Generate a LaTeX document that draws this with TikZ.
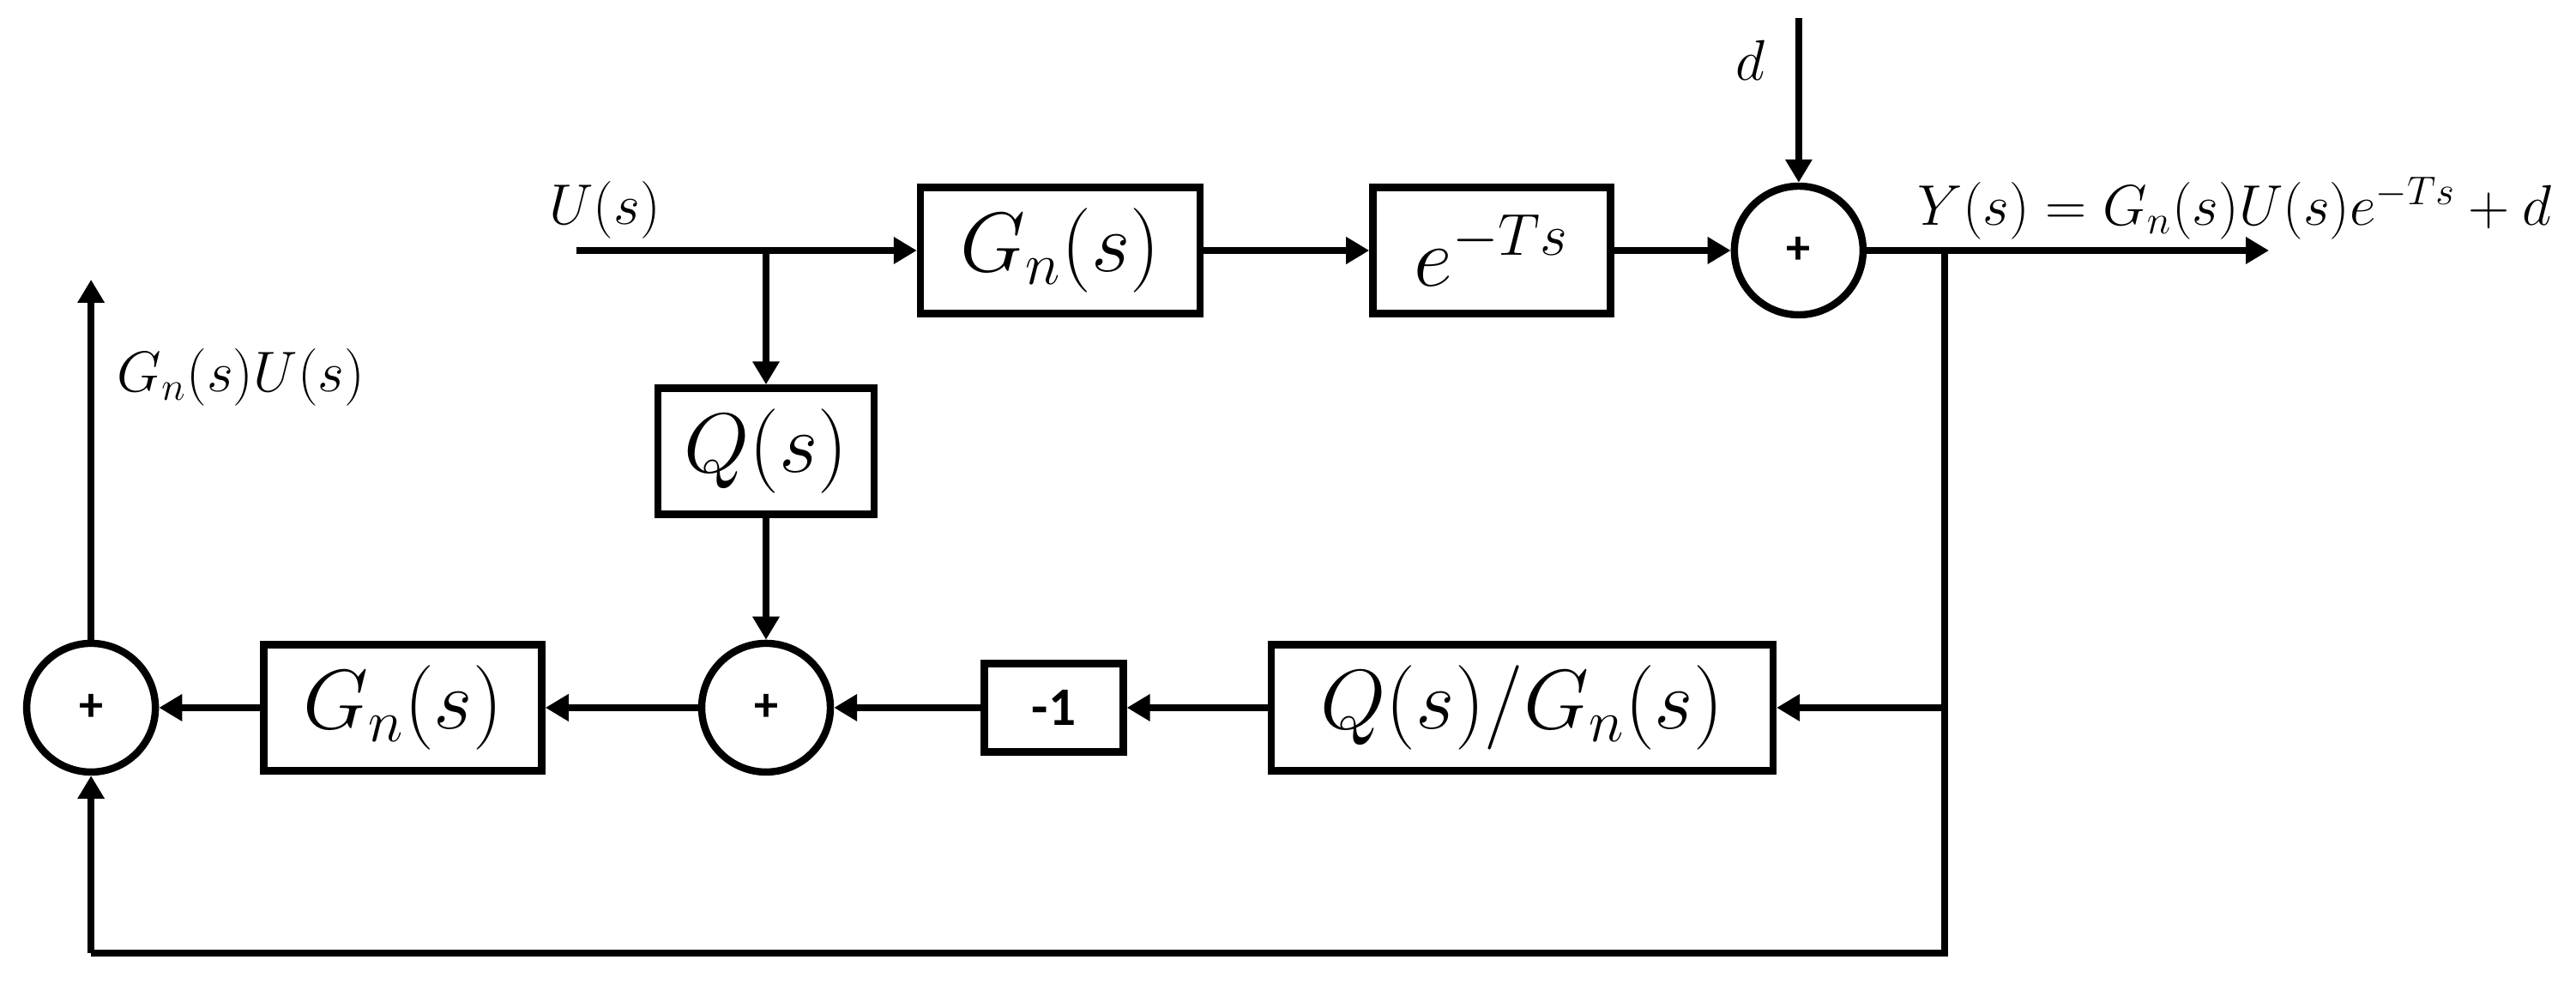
\RequirePackage{fix-cm}
\documentclass[tikz,border=0pt]{standalone}
\usepackage{fontspec}
\newfontfamily\calibri{Carlito}
\usepackage{amsmath}
\usepackage{tikz}
\usetikzlibrary{positioning,arrows.meta}

\tikzset{
  block/.style={draw, line width=2.4pt, minimum height=1.47cm, inner sep=0pt,
    font=\fontsize{28}{31}\selectfont},
  sumnode/.style={draw, circle, line width=2.4pt, minimum size=1.50cm, inner sep=0pt,
    font=\calibri\bfseries\fontsize{16}{19}\selectfont},
  gainbox/.style={draw, line width=2.4pt, minimum width=1.62cm, minimum height=1.03cm,
    inner sep=0pt, font=\calibri\bfseries\fontsize{18}{21}\selectfont},
  sig/.style={inner sep=0pt, font=\fontsize{19}{22}\selectfont},
}

\begin{document}
\begin{tikzpicture}[line width=2.2pt, >={Triangle[length=0.27cm,width=0.30cm]}]
\useasboundingbox (0,0) rectangle (30.03,11.61);

%Nodes
\node[block, minimum width=3.26cm]  (Gfwd)  at (12.36,8.69)             {$G_n(s)$};
\node[block, minimum width=2.77cm]  (delay) [right=1.93cm of Gfwd]      {$e^{-Ts}$};
\node[sumnode]                      (sumY)  [right=1.36cm of delay]     {+};
\node[block, minimum width=2.52cm]  (Qblk)  at (8.93,6.35)              {$Q(s)$};
\node[sumnode]                      (sumM)  [below=1.42cm of Qblk]      {+};
\node[block, minimum width=3.24cm]  (Gfb)   [left=1.78cm of sumM]       {$G_n(s)$};
\node[sumnode]                      (sumL)  [left=1.18cm of Gfb]        {+};
\node[gainbox]                      (neg)   [right=1.71cm of sumM]      {-1};
\node[block, minimum width=5.85cm]  (QG)    [right=1.64cm of neg]       {$Q(s)/G_n(s)$};

%Signals
\node[sig]  (ulab)  at (7.05,9.16)  {$U(s)$};
\node[sig]  (dlab)  at (20.40,10.91) {$d$};
\node[sig]  (ylab)  at (26.05,9.18) {$Y(s)=G_n(s)U(s)e^{-Ts}+d$};
\node[sig]  (glab)  at (2.81,7.21)  {$G_n(s)U(s)$};

%Points
\coordinate (uin)   at (6.72,8.69);
\coordinate (jn)    at (Qblk |- Gfwd);
\coordinate (dtop)  at (sumY |- 0,11.40);
\coordinate (yout)  at (26.45,8.69);
\coordinate (br)    at (22.67,8.69);
\coordinate (brmid) at (br |- QG);
\coordinate (brlow) at (22.67,0.50);
\coordinate (lowL)  at (sumL |- brlow);
\coordinate (gout)  at (sumL |- 0,8.35);

%Lines
\draw[->]   (uin) -- (Gfwd.west);
\draw[->]   (jn) -- (Qblk.north);
\draw[->]   (Gfwd.east) -- (delay.west);
\draw[->]   (delay.east) -- (sumY.west);
\draw[->]   (dtop) -- (sumY.north);
\draw[->]   (sumY.east) -- (yout);
\draw[->]   (brmid) -- (QG.east);
\draw       (br) -- (brlow) -- (lowL);
\draw[->]   (lowL) -- (sumL.south);
\draw[->]   (QG.west) -- (neg.east);
\draw[->]   (neg.west) -- (sumM.east);
\draw[->]   (Qblk.south) -- (sumM.north);
\draw[->]   (sumM.west) -- (Gfb.east);
\draw[->]   (Gfb.west) -- (sumL.east);
\draw[->]   (sumL.north) -- (gout);
\end{tikzpicture}
\end{document}
